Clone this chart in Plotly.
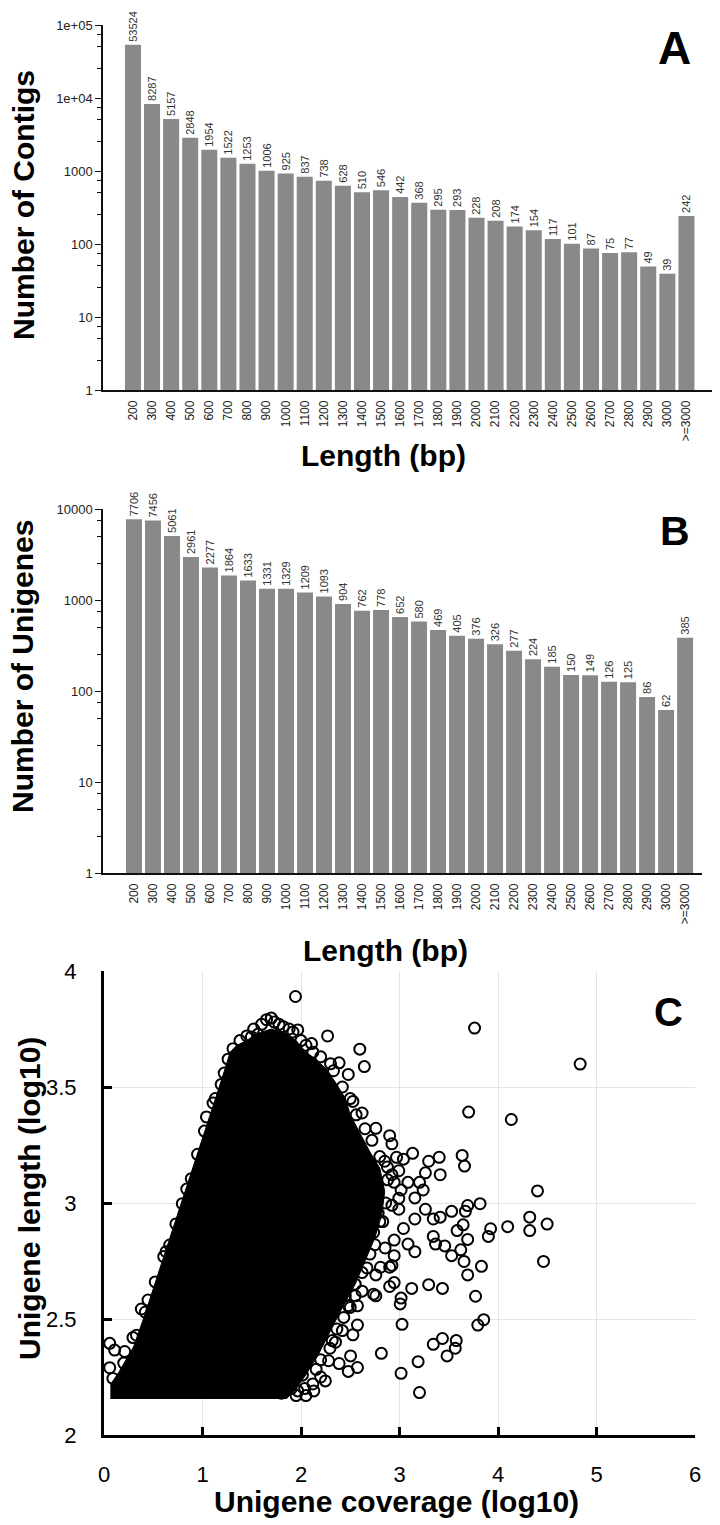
import plotly.graph_objects as go

# ---------------- data ----------------
length_labels = ["200", "300", "400", "500", "600", "700", "800", "900", "1000", "1100",
                 "1200", "1300", "1400", "1500", "1600", "1700", "1800", "1900", "2000", "2100",
                 "2200", "2300", "2400", "2500", "2600", "2700", "2800", "2900", "3000", ">=3000"]

contig_counts = [53524, 8287, 5157, 2848, 1954, 1522, 1253, 1006, 925, 837,
                 738, 628, 510, 546, 442, 368, 295, 293, 228, 208,
                 174, 154, 117, 101, 87, 75, 77, 49, 39, 242]

unigene_counts = [7706, 7456, 5061, 2961, 2277, 1864, 1633, 1331, 1329, 1209,
                  1093, 904, 762, 778, 652, 580, 469, 405, 376, 326,
                  277, 224, 185, 150, 149, 126, 125, 86, 62, 385]

a_tickvals = [1, 10, 100, 1000, 10000, 100000]
a_ticktext = ["1", "10", "100", "1000", "1e+04", "1e+05"]
b_tickvals = [1, 10, 100, 1000, 10000]
b_ticktext = ["1", "10", "100", "1000", "10000"]
minor_vals_a = [2.5, 5, 7.5, 25, 50, 75, 250, 500, 750, 2500, 5000, 7500, 25000, 50000, 75000]
minor_vals_b = [2.5, 5, 7.5, 25, 50, 75, 250, 500, 750, 2500, 5000, 7500]

# Panel C: saturated core region outline
core_x = [0.07, 0.07, 0.15, 0.30, 0.40, 0.50, 0.60, 0.70, 0.785, 0.90, 1.00, 1.10, 1.17, 1.23, 1.28,
          1.35, 1.45, 1.55, 1.70, 1.85, 1.95, 2.05, 2.15, 2.25, 2.35, 2.45, 2.50, 2.60, 2.70, 2.80,
          2.85, 2.82, 2.75, 2.65, 2.55, 2.42, 2.30, 2.18, 2.05, 1.95, 1.85]
core_y = [2.155, 2.22, 2.27, 2.38, 2.50, 2.63, 2.76, 2.88, 3.00, 3.15, 3.28, 3.41, 3.50, 3.58, 3.65,
          3.68, 3.70, 3.73, 3.75, 3.73, 3.70, 3.65, 3.62, 3.58, 3.52, 3.45, 3.38, 3.30, 3.22, 3.15,
          3.05, 2.95, 2.85, 2.75, 2.65, 2.55, 2.45, 2.35, 2.26, 2.20, 2.155]

# Panel C: individually visible unigenes (coverage log10, length log10)
pts_x = [1.944, 3.762, 4.834, 4.135, 3.702, 4.401, 3.818, 4.322, 4.098, 4.322, 4.499, 4.462, 3.925, 3.902,
         3.832, 3.772, 3.855, 3.795, 3.636, 3.660, 3.692, 3.669, 3.646, 3.692, 3.622, 3.655, 3.692, 3.585,
         3.529, 3.413, 3.343, 3.403, 3.413, 3.296, 3.263, 3.240, 3.263, 3.343, 3.366, 3.459, 3.529, 3.296,
         3.436, 3.124, 3.016, 3.007, 3.026, 3.343, 3.436, 3.483, 3.576, 3.566, 3.189, 3.016, 3.203, 2.816,
         2.900, 2.946, 3.133, 3.203, 3.156, 3.156, 3.156, 3.086, 3.040, 2.993, 3.016, 2.993, 2.923, 3.040,
         2.970, 3.086, 2.760, 2.923, 2.946,
         2.270, 2.597, 2.643, 1.967, 2.107, 2.387, 2.480, 2.527, 2.620, 2.760, 2.900, 2.923,
         2.713, 2.783, 2.737, 2.853, 2.946, 2.900, 2.830, 2.923, 2.993, 2.877, 2.946,
         2.014, 2.154, 2.200, 2.294, 2.364, 2.434, 2.480, 2.573, 2.573, 2.527, 2.503, 2.480, 2.573, 2.737,
         2.760, 2.807, 2.130, 2.037, 1.967, 1.830, 2.247, 2.387, 2.317, 2.247, 2.620, 2.670, 2.550, 2.450,
         0.058, 0.108, 0.058, 0.210, 0.294, 0.379, 0.447, 0.606, 0.667, 0.090, 0.795, 0.886, 1.040, 1.107,
         1.190, 1.310, 1.496, 1.563, 1.699, 1.777, 1.919,
         # edge of the dense mass
         0.20, 0.33, 0.42, 0.52, 0.63, 0.73, 0.84, 0.95, 1.02, 1.13, 1.22, 1.26,
         1.38, 1.45, 1.52, 1.60, 1.65, 1.73, 1.82, 1.88, 2.00, 2.05, 2.12, 2.20, 2.30, 2.33,
         2.42, 2.50, 2.56, 2.65, 2.72, 2.80, 2.85, 2.88, 2.86, 2.80, 2.75, 2.70, 2.62, 2.55,
         2.50, 2.42, 2.35, 2.28, 2.20, 2.12, 2.05, 1.95, 1.90, 1.80]
pts_y = [3.890, 3.754, 3.599, 3.360, 3.392, 3.052, 2.997, 2.939, 2.898, 2.881, 2.909, 2.748, 2.889, 2.856,
         2.727, 2.598, 2.497, 2.474, 3.205, 3.159, 2.989, 2.964, 2.906, 2.843, 2.798, 2.748, 2.690, 2.881,
         2.964, 2.939, 2.931, 3.197, 3.122, 3.180, 3.130, 3.056, 2.973, 2.856, 2.823, 2.815, 2.773, 2.648,
         2.632, 2.632, 2.590, 2.565, 2.477, 2.391, 2.416, 2.341, 2.407, 2.374, 2.316, 2.266, 2.183, 2.352,
         2.640, 2.657, 3.214, 3.089, 3.022, 2.931, 2.790, 2.823, 2.890, 2.973, 3.056, 3.139, 3.122, 3.189,
         3.197, 3.089, 2.600, 2.731, 2.840,
         3.720, 3.663, 3.588, 3.746, 3.687, 3.604, 3.554, 3.438, 3.388, 3.322, 3.290, 3.255,
         3.056, 2.956, 2.873, 2.806, 2.773, 2.723, 2.920, 2.990, 3.020, 3.155, 3.089,
         2.258, 2.283, 2.324, 2.374, 2.457, 2.507, 2.557, 2.557, 2.474, 2.432, 2.341, 2.274, 2.291, 2.607,
         2.690, 2.723, 2.190, 2.200, 2.190, 2.200, 2.233, 2.308, 2.407, 2.474, 2.620, 2.720, 2.650, 2.600,
         2.395, 2.366, 2.290, 2.360, 2.420, 2.543, 2.582, 2.769, 2.819, 2.244, 2.997, 3.105, 3.371, 3.431,
         3.511, 3.665, 3.716, 3.727, 3.797, 3.770, 3.737,
         2.31, 2.43, 2.53, 2.66, 2.79, 2.91, 3.06, 3.21, 3.31, 3.45, 3.56, 3.62,
         3.70, 3.72, 3.75, 3.77, 3.79, 3.78, 3.76, 3.75, 3.70, 3.68, 3.65, 3.63, 3.60, 3.57,
         3.50, 3.45, 3.38, 3.32, 3.27, 3.20, 3.18, 3.10, 3.00, 2.92, 2.82, 2.78, 2.70, 2.60,
         2.55, 2.45, 2.40, 2.32, 2.25, 2.22, 2.17, 2.17, 2.20, 2.18]

# ---------------- layout helpers ----------------
W, H = 720, 1525
FONT = "Liberation Sans, Arial, sans-serif"


def px_x(px):
    return px / W


def px_y(py):
    return 1 - py / H


fig = go.Figure()

bar_style = dict(marker=dict(color="#898989", line=dict(width=0)),
                 textposition="outside", textangle=-90, cliponaxis=False,
                 constraintext="none",
                 textfont=dict(family=FONT, size=11, color="#333333"),
                 showlegend=False, hoverinfo="x+y")

fig.add_trace(go.Bar(x=length_labels, y=contig_counts, text=[str(v) for v in contig_counts],
                     xaxis="x", yaxis="y", **bar_style))
fig.add_trace(go.Bar(x=length_labels, y=unigene_counts, text=[str(v) for v in unigene_counts],
                     xaxis="x2", yaxis="y2", **bar_style))

fig.add_trace(go.Scatter(x=core_x, y=core_y, mode="lines", fill="toself", fillcolor="black",
                         line=dict(color="black", width=1), xaxis="x3", yaxis="y3",
                         showlegend=False, hoverinfo="skip"))
fig.add_trace(go.Scatter(x=pts_x, y=pts_y, mode="markers", xaxis="x3", yaxis="y3",
                         marker=dict(symbol="circle-open", size=11, color="black",
                                     line=dict(width=2, color="black")),
                         showlegend=False))

bar_x_common = dict(type="category", showline=True, linecolor="#111111", linewidth=1.5,
                    ticks="", tickangle=-90, showgrid=False, zeroline=False, automargin=False,
                    tickfont=dict(family=FONT, size=12, color="#222222"),
                    ticklabelstandoff=4)
bar_y_common = dict(type="log", showline=True, linecolor="#111111", linewidth=1.5,
                    ticks="outside", ticklen=6, tickwidth=1, tickcolor="#111111",
                    showgrid=False, zeroline=False, automargin=False,
                    tickfont=dict(family=FONT, size=13, color="#222222"))

fig.update_layout(
    template="none",
    width=W, height=H,
    margin=dict(l=0, r=0, t=0, b=0, pad=0),
    paper_bgcolor="white", plot_bgcolor="white",
    bargap=0.16,
    font=dict(family=FONT, color="black"),
    xaxis=dict(domain=[px_x(103), px_x(712)], range=[-1.57, 30.34], anchor="y", **bar_x_common),
    yaxis=dict(domain=[px_y(390), px_y(25)], range=[0, 5], anchor="x",
               tickvals=a_tickvals, ticktext=a_ticktext,
               minor=dict(tickvals=minor_vals_a, ticks="outside", ticklen=4, tickcolor="#111111"),
               **bar_y_common),
    xaxis2=dict(domain=[px_x(103), px_x(702)], range=[-1.63, 29.89], anchor="y2", **bar_x_common),
    yaxis2=dict(domain=[px_y(873), px_y(509)], range=[0, 4], anchor="x2",
                tickvals=b_tickvals, ticktext=b_ticktext,
                minor=dict(tickvals=minor_vals_b, ticks="outside", ticklen=4, tickcolor="#111111"),
                **bar_y_common),
    xaxis3=dict(domain=[px_x(104), px_x(695)], range=[0, 6], anchor="y3",
                showline=True, linecolor="black", linewidth=3,
                ticks="inside", ticklen=8, tickwidth=3, tickcolor="black",
                tickvals=[0, 1, 2, 3, 4, 5, 6], automargin=False,
                showgrid=True, gridcolor="#e4e4e4", gridwidth=1, zeroline=False,
                tickfont=dict(family=FONT, size=22, color="black"), ticklabelstandoff=18),
    yaxis3=dict(domain=[px_y(1435), px_y(971)], range=[2, 4], anchor="x3",
                showline=True, linecolor="black", linewidth=3,
                ticks="inside", ticklen=8, tickwidth=3, tickcolor="black",
                tickvals=[2, 2.5, 3, 3.5, 4], ticktext=["2", "2.5", "3", "3.5", "4"],
                automargin=False,
                showgrid=True, gridcolor="#e4e4e4", gridwidth=1, zeroline=False,
                tickfont=dict(family=FONT, size=22, color="black"), ticklabelstandoff=20),
)

ann = []


def add_text(text, cx, cy, size, angle=0):
    ann.append(dict(text=text, x=px_x(cx), y=px_y(cy), xref="paper", yref="paper",
                    xanchor="center", yanchor="middle", showarrow=False, textangle=angle,
                    font=dict(family=FONT, size=size, color="black")))


add_text("<b>Number of Contigs</b>", 23, 205, 30, -90)
add_text("<b>Length (bp)</b>", 383, 455, 30)
add_text("<b>A</b>", 674, 48, 46)
add_text("<b>Number of Unigenes</b>", 22, 667, 30, -90)
add_text("<b>Length (bp)</b>", 385, 950, 30)
add_text("<b>B</b>", 675, 531, 41)
add_text("<b>Unigene length (log10)</b>", 29, 1199, 30, -90)
add_text("<b>Unigene coverage (log10)</b>", 396, 1501, 30)
add_text("<b>C</b>", 668, 1012, 40)

fig.update_layout(annotations=ann)

fig.write_html("out.html",
               config={"displayModeBar": False},
               post_script="document.body.style.margin='0px';document.body.style.padding='0px';")
